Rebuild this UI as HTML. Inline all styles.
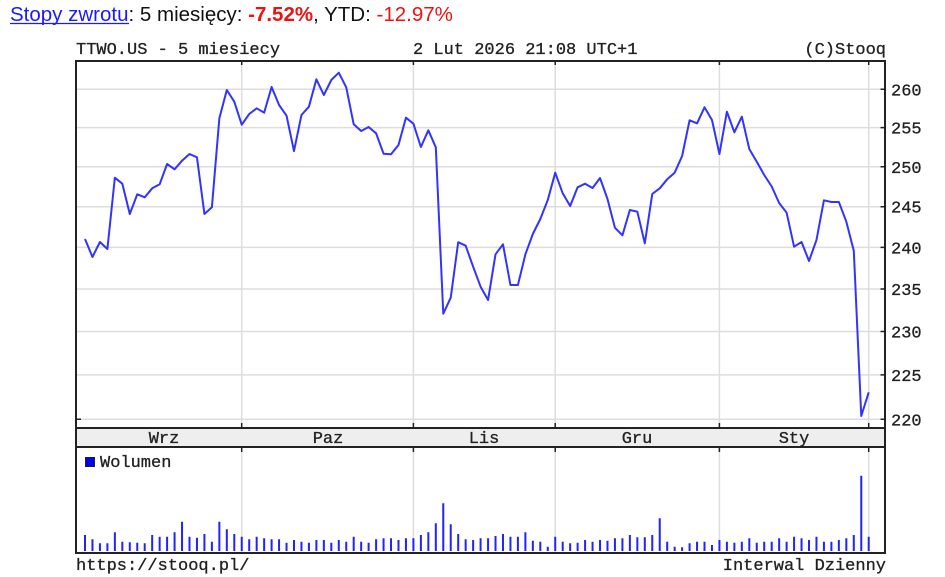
<!DOCTYPE html>
<html><head><meta charset="utf-8">
<style>
html,body{margin:0;padding:0;background:#fff;}
svg{display:block;}
.m{font-family:"Liberation Mono",monospace;font-size:17px;fill:#222;stroke:#222;stroke-width:0.3px;}
.s{font-family:"Liberation Sans",Arial,sans-serif;font-size:20.5px;}
</style></head>
<body>
<svg width="945" height="577" viewBox="0 0 945 577" xmlns="http://www.w3.org/2000/svg">
<rect width="945" height="577" fill="#fff"/>
<!-- header -->
<text class="s" x="10" y="21"><tspan fill="#1a1aff">Stopy zwrotu</tspan><tspan fill="#111">: 5 miesięcy: </tspan><tspan fill="#ee1111" font-weight="bold">-7.52%</tspan><tspan fill="#111">, YTD: </tspan><tspan fill="#ee1111">-12.97%</tspan></text>
<line x1="10" y1="23.5" x2="129" y2="23.5" stroke="#1a1aff" stroke-width="1.2"/>
<text class="m" x="76" y="54">TTWO.US - 5 miesiecy</text>
<text class="m" x="413" y="54">2 Lut 2026 21:08 UTC+1</text>
<text class="m" x="886" y="54" text-anchor="end">(C)Stooq</text>

<!-- horizontal grid -->
<g stroke="#dddddd" stroke-width="1.5">
<line x1="76" y1="89.3" x2="885" y2="89.3"/>
<line x1="76" y1="127.6" x2="885" y2="127.6"/>
<line x1="76" y1="166.8" x2="885" y2="166.8"/>
<line x1="76" y1="206.7" x2="885" y2="206.7"/>
<line x1="76" y1="247.4" x2="885" y2="247.4"/>
<line x1="76" y1="289.0" x2="885" y2="289.0"/>
<line x1="76" y1="331.5" x2="885" y2="331.5"/>
<line x1="76" y1="374.9" x2="885" y2="374.9"/>
<line x1="76" y1="419.3" x2="885" y2="419.3"/>
</g>
<!-- vertical grid -->
<g stroke="#dddddd" stroke-width="1.5">
<line x1="241.7" y1="61" x2="241.7" y2="428"/>
<line x1="413.4" y1="61" x2="413.4" y2="428"/>
<line x1="555.2" y1="61" x2="555.2" y2="428"/>
<line x1="719.4" y1="61" x2="719.4" y2="428"/>
<line x1="868.7" y1="61" x2="868.7" y2="428"/>
<line x1="241.7" y1="447" x2="241.7" y2="553"/>
<line x1="413.4" y1="447" x2="413.4" y2="553"/>
<line x1="555.2" y1="447" x2="555.2" y2="553"/>
<line x1="719.4" y1="447" x2="719.4" y2="553"/>
<line x1="868.7" y1="447" x2="868.7" y2="553"/>
</g>

<!-- band -->
<rect x="76" y="428" width="809" height="19" fill="#eeeeee"/>
<g class="m" text-anchor="middle">
<text x="164" y="443">Wrz</text>
<text x="328" y="443">Paz</text>
<text x="484" y="443">Lis</text>
<text x="637" y="443">Gru</text>
<text x="794" y="443">Sty</text>
</g>

<!-- price line -->
<polyline fill="none" stroke="#3333ff" stroke-width="2" stroke-linejoin="round" points="
85.0,239 92.46,257 99.93,242 107.39,249 114.86,177.7 122.32,183.7 129.78,214 137.25,194.3 144.71,197.3 152.18,188.3
159.64,184.3 167.10,164 174.57,169.3 182.03,160.7 189.50,154 196.96,157.3 204.42,214 211.89,207.3 219.35,118.3 226.82,90
234.28,101.7 241.74,124.7 249.21,114 256.67,108.3 264.14,112.7 271.60,87 279.06,105 286.53,115.7 293.99,151 301.46,115
308.92,106.7 316.38,79.3 323.85,95 331.31,80 338.78,72.7 346.24,87.3 353.70,124.3 361.17,131 368.63,127 376.10,133.3
383.56,153.7 391.02,154.3 398.49,145 405.95,117.7 413.42,123.7 420.88,147 428.34,130.3 435.81,147.3 443.27,313.7 450.74,297.7
458.20,242.2 465.66,245.7 473.13,266.7 480.59,286.7 488.06,300 495.52,254.3 502.98,244.3 510.45,285 517.91,285 525.38,254.3
532.84,234 540.30,219 547.77,200 555.23,172.7 562.70,193.3 570.16,206 577.62,187.3 585.09,183.7 592.55,188 600.02,178
607.48,199 614.94,227.7 622.41,235.3 629.87,210 637.34,211.7 644.80,243.3 652.26,194 659.73,188.3 667.19,179.3 674.66,172.7
682.12,156 689.58,120.3 697.05,123.3 704.51,107.3 711.98,120 719.44,154 726.90,111.7 734.37,132.3 741.83,116.7 749.30,149
756.76,161.7 764.22,175 771.69,186.5 779.15,203 786.62,212.7 794.08,246.7 801.54,242 809.01,261 816.47,240 823.94,200.3
831.40,202 838.86,202 846.33,221.7 853.79,250.7 861.26,416 868.72,392.3"/>

<!-- volume bars -->
<path fill="none" stroke="#2222ff" stroke-width="2" d="
M85.0 551V535 M92.46 551V539.3 M99.93 551V543.3 M107.39 551V543.3 M114.86 551V532.3 M122.32 551V541.7 M129.78 551V542.3 M137.25 551V542.7 M144.71 551V543.3 M152.18 551V535
M159.64 551V536.7 M167.10 551V536.7 M174.57 551V532.3 M182.03 551V521.7 M189.50 551V536.7 M196.96 551V537.7 M204.42 551V534 M211.89 551V541.7 M219.35 551V521.7 M226.82 551V529.3
M234.28 551V534 M241.74 551V536.7 M249.21 551V539.3 M256.67 551V536.7 M264.14 551V538.3 M271.60 551V539.3 M279.06 551V539.3 M286.53 551V542.7 M293.99 551V540 M301.46 551V541.7
M308.92 551V542.7 M316.38 551V540 M323.85 551V540 M331.31 551V542.7 M338.78 551V540 M346.24 551V541.7 M353.70 551V536.7 M361.17 551V541.7 M368.63 551V542.7 M376.10 551V539.3
M383.56 551V538.3 M391.02 551V538.3 M398.49 551V540 M405.95 551V538.3 M413.42 551V538.3 M420.88 551V535 M428.34 551V532.3 M435.81 551V523.3 M443.27 551V503.3 M450.74 551V524.3
M458.20 551V534 M465.66 551V539.3 M473.13 551V540 M480.59 551V538.3 M488.06 551V538.3 M495.52 551V536 M502.98 551V534 M510.45 551V536.7 M517.91 551V536.7 M525.38 551V532.3
M532.84 551V540.7 M540.30 551V541.7 M547.77 551V546.7 M555.23 551V536.7 M562.70 551V541.7 M570.16 551V543.3 M577.62 551V542.7 M585.09 551V540 M592.55 551V541.7 M600.02 551V540
M607.48 551V540.7 M614.94 551V538.3 M622.41 551V538.3 M629.87 551V535 M637.34 551V537.3 M644.80 551V537.3 M652.26 551V535 M659.73 551V518.3 M667.19 551V541.7 M674.66 551V546.7
M682.12 551V547.3 M689.58 551V543.3 M697.05 551V541.7 M704.51 551V541.7 M711.98 551V545 M719.44 551V540 M726.90 551V541.7 M734.37 551V542.7 M741.83 551V541.7 M749.30 551V538.3
M756.76 551V542.7 M764.22 551V541.7 M771.69 551V541.7 M779.15 551V538.3 M786.62 551V541.7 M794.08 551V536.7 M801.54 551V538.3 M809.01 551V540 M816.47 551V536.7 M823.94 551V541.7
M831.40 551V541.7 M838.86 551V540 M846.33 551V538.3 M853.79 551V535 M861.26 551V475.7 M868.72 551V536.7"/>

<!-- legend -->
<rect x="85.5" y="457.5" width="9" height="9" fill="#0000ee" stroke="#222" stroke-width="1"/>
<text class="m" x="100" y="467">Wolumen</text>

<!-- ticks -->
<g stroke="#222" stroke-width="1.5">
<path d="M241.7 61v4 M413.4 61v4 M555.2 61v4 M719.4 61v4 M868.7 61v4
M241.7 428v-5 M413.4 428v-5 M555.2 428v-5 M719.4 428v-5 M868.7 428v-5
M241.7 447v5 M413.4 447v5 M555.2 447v5 M719.4 447v5 M868.7 447v5
M880.5 89.3h5 M880.5 127.6h5 M880.5 166.8h5 M880.5 206.7h5 M880.5 247.4h5 M880.5 289.0h5 M880.5 331.5h5 M880.5 374.9h5 M880.5 419.3h5
M76 419.3h5"/>
</g>

<!-- frame -->
<g stroke="#222" stroke-width="2" fill="none">
<rect x="76" y="61" width="809" height="492"/>
<line x1="76" y1="428" x2="885" y2="428"/>
<line x1="76" y1="447" x2="885" y2="447"/>
</g>

<!-- y labels -->
<g class="m">
<text x="891" y="95.3">260</text>
<text x="891" y="133.6">255</text>
<text x="891" y="172.8">250</text>
<text x="891" y="212.7">245</text>
<text x="891" y="253.4">240</text>
<text x="891" y="295.0">235</text>
<text x="891" y="337.5">230</text>
<text x="891" y="380.9">225</text>
<text x="891" y="425.3">220</text>
</g>

<!-- footer -->
<text class="m" x="76" y="570">https://stooq.pl/</text>
<text class="m" x="886" y="570" text-anchor="end">Interwal Dzienny</text>
</svg>
</body></html>
